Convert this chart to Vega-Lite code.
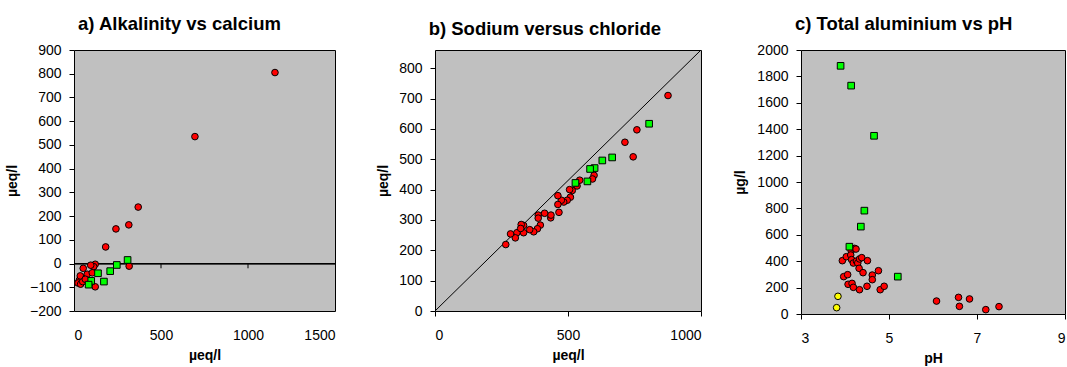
{
  "$schema": "https://vega.github.io/schema/vega-lite/v6.json",
  "padding": {"left": 4, "top": 14, "right": 0, "bottom": 0},
  "background": "#FFFFFF",
  "bounds": "flush",
  "spacing": 100,
  "config": {
    "font": "Liberation Sans",
    "view": {"fill": "#C0C0C0", "stroke": "#000000", "strokeWidth": 1},
    "axis": {"grid": false, "domain": false, "tickColor": "#000000", "tickSize": 5, "labelFont": "Liberation Sans", "labelFontSize": 14, "labelColor": "#000000", "titleFont": "Liberation Sans", "titleFontSize": 14, "titleFontWeight": "bold", "titleColor": "#000000", "labelPadding": 8, "labelOverlap": false, "format": "d"},
    "axisX": {"labelPadding": 12, "titlePadding": 6},
    "title": {"font": "Liberation Sans", "fontSize": 18.5, "fontWeight": "bold", "color": "#000000", "frame": "bounds", "anchor": "middle", "offset": 9.5},
    "point": {"filled": true, "size": 44, "stroke": "#000000", "strokeWidth": 1, "opacity": 1}
  },
  "datasets": {
    "alk": [
      {"ca": 1155, "alk": 805, "cat": "A"}, {"ca": 695, "alk": 535, "cat": "A"}, {"ca": 369, "alk": 238, "cat": "A"},
      {"ca": 315, "alk": 163, "cat": "A"}, {"ca": 241, "alk": 146, "cat": "A"}, {"ca": 182, "alk": 70, "cat": "A"},
      {"ca": 317, "alk": -11, "cat": "A"}, {"ca": 122, "alk": -98, "cat": "A"}, {"ca": 122, "alk": -3, "cat": "A"},
      {"ca": 113, "alk": -13, "cat": "A"}, {"ca": 96, "alk": -7, "cat": "A"}, {"ca": 53, "alk": -20, "cat": "A"},
      {"ca": 76, "alk": -45, "cat": "A"}, {"ca": 105, "alk": -39, "cat": "A"}, {"ca": 42, "alk": -59, "cat": "A"},
      {"ca": 31, "alk": -70, "cat": "A"}, {"ca": 23, "alk": -82, "cat": "A"}, {"ca": 38, "alk": -87, "cat": "A"},
      {"ca": 50, "alk": -76, "cat": "A"}, {"ca": 36, "alk": -52, "cat": "A"}, {"ca": 65, "alk": -66, "cat": "A"},
      {"ca": 308, "alk": 15, "cat": "B"}, {"ca": 246, "alk": -6, "cat": "B"}, {"ca": 208, "alk": -32, "cat": "B"},
      {"ca": 172, "alk": -76, "cat": "B"}, {"ca": 138, "alk": -41, "cat": "B"}, {"ca": 99, "alk": -73, "cat": "B"},
      {"ca": 84, "alk": -89, "cat": "B"}
    ],
    "alkTicks": [{"ca": 500, "top": 0, "bottom": -20}, {"ca": 1000, "top": 0, "bottom": -20}],
    "na": [
      {"cl": 876, "na": 710, "cat": "A"}, {"cl": 759, "na": 597, "cat": "A"}, {"cl": 714, "na": 556, "cat": "A"},
      {"cl": 745, "na": 508, "cat": "A"}, {"cl": 598, "na": 447, "cat": "A"}, {"cl": 592, "na": 435, "cat": "A"},
      {"cl": 544, "na": 431, "cat": "A"}, {"cl": 534, "na": 412, "cat": "A"}, {"cl": 516, "na": 397, "cat": "A"},
      {"cl": 506, "na": 400, "cat": "A"}, {"cl": 509, "na": 375, "cat": "A"}, {"cl": 497, "na": 365, "cat": "A"},
      {"cl": 484, "na": 359, "cat": "A"}, {"cl": 475, "na": 365, "cat": "A"}, {"cl": 462, "na": 380, "cat": "A"},
      {"cl": 462, "na": 351, "cat": "A"}, {"cl": 466, "na": 325, "cat": "A"}, {"cl": 412, "na": 322, "cat": "A"},
      {"cl": 435, "na": 307, "cat": "A"}, {"cl": 436, "na": 316, "cat": "A"}, {"cl": 388, "na": 316, "cat": "A"},
      {"cl": 388, "na": 306, "cat": "A"}, {"cl": 396, "na": 283, "cat": "A"}, {"cl": 385, "na": 271, "cat": "A"},
      {"cl": 371, "na": 261, "cat": "A"}, {"cl": 356, "na": 268, "cat": "A"}, {"cl": 333, "na": 282, "cat": "A"},
      {"cl": 324, "na": 285, "cat": "A"}, {"cl": 333, "na": 258, "cat": "A"}, {"cl": 308, "na": 258, "cat": "A"},
      {"cl": 302, "na": 241, "cat": "A"}, {"cl": 284, "na": 254, "cat": "A"}, {"cl": 266, "na": 219, "cat": "A"},
      {"cl": 322, "na": 272, "cat": "A"},
      {"cl": 805, "na": 617, "cat": "B"}, {"cl": 666, "na": 506, "cat": "B"}, {"cl": 629, "na": 496, "cat": "B"},
      {"cl": 600, "na": 471, "cat": "B"}, {"cl": 583, "na": 468, "cat": "B"}, {"cl": 573, "na": 427, "cat": "B"},
      {"cl": 528, "na": 422, "cat": "B"}
    ],
    "diag": [{"cl": 0, "na": 0}, {"cl": 1000, "na": 860}],
    "al": [
      {"ph": 3.94, "al": 404, "cat": "A"}, {"ph": 4.03, "al": 434, "cat": "A"}, {"ph": 4.14, "al": 480, "cat": "A"},
      {"ph": 4.22, "al": 497, "cat": "A"}, {"ph": 4.25, "al": 492, "cat": "A"}, {"ph": 4.13, "al": 447, "cat": "A"},
      {"ph": 4.15, "al": 412, "cat": "A"}, {"ph": 4.19, "al": 386, "cat": "A"}, {"ph": 4.26, "al": 401, "cat": "A"},
      {"ph": 4.29, "al": 386, "cat": "A"}, {"ph": 4.33, "al": 417, "cat": "A"}, {"ph": 4.38, "al": 427, "cat": "A"},
      {"ph": 4.51, "al": 404, "cat": "A"}, {"ph": 4.32, "al": 346, "cat": "A"}, {"ph": 4.41, "al": 313, "cat": "A"},
      {"ph": 3.97, "al": 283, "cat": "A"}, {"ph": 4.06, "al": 298, "cat": "A"}, {"ph": 4.62, "al": 295, "cat": "A"},
      {"ph": 4.76, "al": 328, "cat": "A"}, {"ph": 4.62, "al": 260, "cat": "A"}, {"ph": 4.07, "al": 225, "cat": "A"},
      {"ph": 4.16, "al": 232, "cat": "A"}, {"ph": 4.19, "al": 202, "cat": "A"}, {"ph": 4.33, "al": 184, "cat": "A"},
      {"ph": 4.50, "al": 210, "cat": "A"}, {"ph": 4.80, "al": 184, "cat": "A"}, {"ph": 4.89, "al": 210, "cat": "A"},
      {"ph": 6.08, "al": 98, "cat": "A"}, {"ph": 6.58, "al": 126, "cat": "A"}, {"ph": 6.60, "al": 58, "cat": "A"},
      {"ph": 6.83, "al": 114, "cat": "A"}, {"ph": 7.20, "al": 33, "cat": "A"}, {"ph": 7.50, "al": 56, "cat": "A"},
      {"ph": 3.90, "al": 1880, "cat": "B"}, {"ph": 4.14, "al": 1730, "cat": "B"}, {"ph": 4.66, "al": 1350, "cat": "B"},
      {"ph": 4.44, "al": 783, "cat": "B"}, {"ph": 4.36, "al": 662, "cat": "B"}, {"ph": 4.10, "al": 510, "cat": "B"},
      {"ph": 5.20, "al": 283, "cat": "B"},
      {"ph": 3.84, "al": 134, "cat": "C"}, {"ph": 3.81, "al": 48, "cat": "C"}
    ]
  },
  "hconcat": [
    {
      "title": {"text": "a) Alkalinity vs calcium", "anchor": "middle", "frame": "bounds", "dx": 9},
      "width": 261, "height": 261,
      "layer": [
        {
          "data": {"name": "alk"},
          "mark": {"type": "rule", "color": "#000000", "strokeWidth": 1},
          "encoding": {"y": {"datum": 0, "type": "quantitative", "scale": {"domain": [-200, 900], "nice": false, "zero": false},
                  "axis": {"values": [-200, -100, 0, 100, 200, 300, 400, 500, 600, 700, 800, 900], "title": "µeq/l", "titlePadding": 10}}}
        },
        {
          "data": {"name": "alkTicks"},
          "mark": {"type": "rule", "color": "#000000", "strokeWidth": 1},
          "encoding": {
            "x": {"field": "ca", "type": "quantitative", "scale": {"domain": [0, 1500], "nice": false, "zero": false},
                  "axis": {"values": [0, 500, 1000, 1500], "ticks": false, "tickSize": 0, "labelPadding": 17, "title": "µeq/l"}},
            "y": {"field": "top", "type": "quantitative", "scale": {"domain": [-200, 900], "nice": false, "zero": false},
                  "axis": {"values": [-200, -100, 0, 100, 200, 300, 400, 500, 600, 700, 800, 900], "title": "µeq/l", "titlePadding": 10}},
            "y2": {"field": "bottom"}
          }
        },
        {
          "data": {"name": "alk"},
          "mark": {"type": "point"},
          "encoding": {
            "x": {"field": "ca", "type": "quantitative", "scale": {"domain": [0, 1500], "nice": false, "zero": false},
                  "axis": {"values": [0, 500, 1000, 1500], "ticks": false, "tickSize": 0, "labelPadding": 17, "title": "µeq/l"}},
            "y": {"field": "alk", "type": "quantitative", "scale": {"domain": [-200, 900], "nice": false, "zero": false},
                  "axis": {"values": [-200, -100, 0, 100, 200, 300, 400, 500, 600, 700, 800, 900], "title": "µeq/l", "titlePadding": 10}},
            "shape": {"field": "cat", "type": "nominal", "scale": {"domain": ["A", "B", "C"], "range": ["circle", "square", "circle"]}, "legend": null},
            "fill": {"field": "cat", "type": "nominal", "scale": {"domain": ["A", "B", "C"], "range": ["#FF0000", "#00FF00", "#FFFF00"]}, "legend": null}
          }
        }
      ]
    },
    {
      "title": {"text": "b) Sodium versus chloride", "anchor": "middle", "frame": "bounds", "dx": 5},
      "width": 266, "height": 261,
      "layer": [
        {
          "data": {"name": "diag"},
          "mark": {"type": "line", "color": "#000000", "strokeWidth": 1},
          "encoding": {
            "x": {"field": "cl", "type": "quantitative", "scale": {"domain": [0, 1000], "nice": false},
                  "axis": {"values": [0, 500, 1000], "title": "µeq/l"}},
            "y": {"field": "na", "type": "quantitative", "scale": {"domain": [0, 860], "nice": false},
                  "axis": {"values": [0, 100, 200, 300, 400, 500, 600, 700, 800], "title": "µeq/l", "titlePadding": 8}}
          }
        },
        {
          "data": {"name": "na"},
          "mark": {"type": "point"},
          "encoding": {
            "x": {"field": "cl", "type": "quantitative", "scale": {"domain": [0, 1000], "nice": false},
                  "axis": {"values": [0, 500, 1000], "title": "µeq/l"}},
            "y": {"field": "na", "type": "quantitative", "scale": {"domain": [0, 860], "nice": false},
                  "axis": {"values": [0, 100, 200, 300, 400, 500, 600, 700, 800], "title": "µeq/l", "titlePadding": 8}},
            "shape": {"field": "cat", "type": "nominal", "scale": {"domain": ["A", "B", "C"], "range": ["circle", "square", "circle"]}, "legend": null},
            "fill": {"field": "cat", "type": "nominal", "scale": {"domain": ["A", "B", "C"], "range": ["#FF0000", "#00FF00", "#FFFF00"]}, "legend": null}
          }
        }
      ]
    },
    {
      "title": {"text": "c) Total aluminium vs pH", "anchor": "middle", "frame": "bounds", "dx": 4},
      "width": 264, "height": 264,
      "data": {"name": "al"},
      "mark": {"type": "point"},
      "encoding": {
        "x": {"field": "ph", "type": "quantitative", "scale": {"domain": [3, 9], "nice": false, "zero": false},
              "axis": {"values": [3, 5, 7, 9], "title": "pH"}},
        "y": {"field": "al", "type": "quantitative", "scale": {"domain": [0, 2000], "nice": false},
              "axis": {"values": [0, 200, 400, 600, 800, 1000, 1200, 1400, 1600, 1800, 2000], "title": "µg/l", "titlePadding": 9}},
        "shape": {"field": "cat", "type": "nominal", "scale": {"domain": ["A", "B", "C"], "range": ["circle", "square", "circle"]}, "legend": null},
        "fill": {"field": "cat", "type": "nominal", "scale": {"domain": ["A", "B", "C"], "range": ["#FF0000", "#00FF00", "#FFFF00"]}, "legend": null}
      }
    }
  ]
}
